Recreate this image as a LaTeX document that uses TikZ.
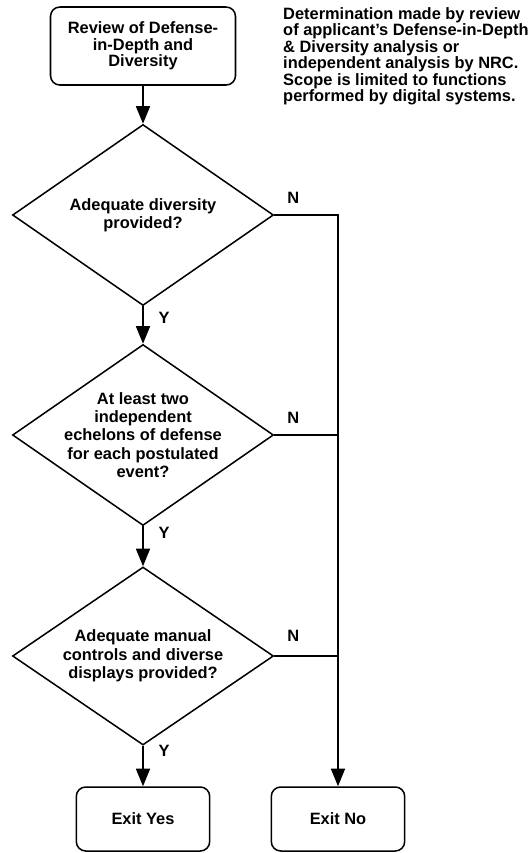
\documentclass[tikz,border=0pt]{standalone}
\usepackage{fontspec}
\setmainfont{Liberation Sans}
\usetikzlibrary{shapes.geometric, arrows.meta, positioning}

\begin{document}
\begin{tikzpicture}[
  every node/.style={font=\fontsize{14pt}{14pt}\selectfont\bfseries},
  startstop/.style={rectangle, rounded corners=8pt, minimum width=5.55cm, minimum height=2.34cm, text centered, align=center, draw=black, line width=1.3pt},
  exitbox/.style={rectangle, rounded corners=8pt, minimum width=4cm, minimum height=1.92cm, text centered, align=center, draw=black, line width=1.3pt},
  decision/.style={diamond, inner sep=0pt, minimum width=7.83cm, minimum height=5.43cm, draw=black, line width=1.3pt},
  question/.style={align=center, font=\fontsize{14pt}{15.6pt}\selectfont\bfseries},
  yn/.style={inner sep=0pt},
  line/.style={line width=1.3pt},
  arrow/.style={line width=1.3pt, -{Triangle[length=15pt, width=12pt]}}]

  \useasboundingbox (0,0) rectangle (15.9,-25.59);

  % Nodes
  \node (review) [startstop] at (4.29,-1.38) {Review of Defense-\\in-Depth and\\Diversity};
  \node (note) [anchor=north west, inner sep=0pt, align=left] at (8.49,-0.22) {Determination made by review\\of applicant's Defense-in-Depth\\\& Diversity analysis or\\independent analysis by NRC.\\Scope is limited to functions\\performed by digital systems.};
  \node (diversity) [decision, below of=review, yshift=-4.07cm, label={[question]center:{Adequate diversity\\provided?}}] {};
  \node (echelons) [decision, below of=diversity, yshift=-5.6cm, label={[question]center:{At least two\\independent\\echelons of defense\\for each postulated\\event?}}] {};
  \node (manual) [decision, below of=echelons, yshift=-5.63cm, minimum height=5.34cm, label={[question]center:{Adequate manual\\controls and diverse\\displays provided?}}] {};
  \node (exityes) [exitbox, below of=manual, yshift=-3.89cm] {Exit Yes};
  \node (exitno) [exitbox, right of=exityes, xshift=4.85cm] {Exit No};

  % Labels
  \node (n1) [yn] at ([xshift=0.57cm, yshift=0.52cm]diversity.east) {N};
  \node (n2) [yn] at ([xshift=0.57cm, yshift=0.52cm]echelons.east) {N};
  \node (n3) [yn] at ([xshift=0.57cm, yshift=0.6cm]manual.east) {N};
  \node (y1) [yn] at ([xshift=0.63cm, yshift=-0.36cm]diversity.south) {Y};
  \node (y2) [yn] at ([xshift=0.63cm, yshift=-0.2cm]echelons.south) {Y};
  \node (y3) [yn] at ([xshift=0.63cm, yshift=-0.15cm]manual.south) {Y};

  % Arrows
  \draw [arrow] (review) -- (diversity);
  \draw [arrow] (diversity) -- (echelons);
  \draw [arrow] (echelons) -- (manual);
  \draw [arrow] (manual) -- (exityes);

  \draw [arrow] (diversity.east) -| (exitno.north);
  \draw [line] (echelons.east) -- (echelons.east -| exitno.north);
  \draw [line] (manual.east) -- (manual.east -| exitno.north);

\end{tikzpicture}
\end{document}
